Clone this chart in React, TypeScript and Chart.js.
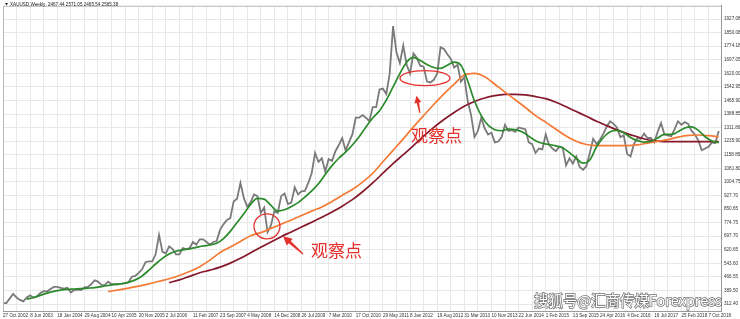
import React, { useEffect, useRef } from "react";
import { Chart, registerables } from "chart.js";

Chart.register(...registerables);

// ---------- data ----------
const titleText = "XAUUSD,Weekly  2467.44 2571.05 2465.54 2565.38";
const noteText = "观察点";
const watermarkText = "搜狐号@汇商传媒Forexpress";

// x tick labels, one every 32 weeks starting 27 Oct 2002
const dateLabels = [
  "27 Oct 2002", "8 Jun 2003", "18 Jan 2004", "29 Aug 2004", "10 Apr 2005", "20 Nov 2005",
  "2 Jul 2006", "11 Feb 2007", "23 Sep 2007", "4 May 2008", "14 Dec 2008", "26 Jul 2009",
  "7 Mar 2010", "17 Oct 2010", "29 May 2011", "8 Jan 2012", "19 Aug 2012", "31 Mar 2013",
  "10 Nov 2013", "22 Jun 2014", "1 Feb 2015", "13 Sep 2015", "24 Apr 2016", "4 Dec 2016",
  "16 Jul 2017", "25 Feb 2018", "7 Oct 2018",
];

// y tick labels, bottom to top
const priceLabels = [
  "312.40", "389.50", "466.55", "543.60", "620.65", "697.70", "774.75", "850.65",
  "927.70", "1004.75", "1081.80", "1158.85", "1235.90", "1311.80", "1388.85", "1465.90",
  "1542.95", "1620.00", "1697.05", "1774.18", "1850.08", "1927.08",
];
const priceTickFirst = 312.4;
const priceTickStep = 77.0324;

// weekly close, sampled every 4 weeks from week 0 (27 Oct 2002)
const closeStep = 4;
const weeklyClose = [
  318, 318, 345,
  370, 350, 336, 328, 350, 362, 348, 356, 375, 386, 384, 398, 410,
  410, 405, 400, 405, 378, 392, 395, 392, 408, 410, 425, 447, 440,
  422, 420, 440, 425, 425, 425, 428, 432, 437, 468, 472, 490, 510,
  550, 555, 555, 595, 705, 610, 600, 640, 625, 595, 595, 630, 625,
  630, 665, 650, 680, 680, 665, 650, 665, 670, 735, 765, 790, 800,
  895, 910, 1000, 915, 865, 890, 935, 925, 830, 860, 720, 760, 840,
  830, 925, 940, 880, 888, 975, 935, 952, 955, 1000, 1055, 1170, 1120,
  1140, 1065, 1135, 1125, 1180, 1215, 1255, 1185, 1230, 1275, 1370, 1370, 1385,
  1370, 1350, 1430, 1430, 1530, 1535, 1505, 1620, 1890, 1740, 1680, 1780, 1670,
  1620, 1735, 1710, 1665, 1660, 1575, 1570, 1585, 1620, 1770, 1760, 1730, 1705,
  1655, 1670, 1575, 1600, 1465, 1385, 1260, 1295, 1370, 1310, 1275, 1285, 1230,
  1235, 1260, 1330, 1295, 1300, 1290, 1315, 1310, 1305, 1230, 1220, 1170, 1195,
  1190, 1275, 1215, 1195, 1180, 1205, 1200, 1100, 1140, 1110, 1150, 1090, 1075,
  1095, 1170, 1250, 1220, 1245, 1280, 1320, 1350, 1335, 1315, 1260, 1270, 1165,
  1150, 1220, 1255, 1250, 1280, 1255, 1255, 1230, 1290, 1340, 1275, 1270, 1265,
  1305, 1350, 1330, 1345, 1335, 1295, 1275, 1240, 1185, 1195, 1205, 1230, 1225, 1295,
];

// green moving average, every 8 weeks from week 28
const greenStart = 28;
const greenStep = 8;
const greenMA = [
  340, 350, 362, 375, 385, 392, 396, 398, 400, 403, 406, 412, 418, 424, 428, 436,
  450, 472, 505, 540, 572, 597, 612, 620, 626, 634, 642, 648, 658, 684, 725, 775,
  825, 878, 912, 908, 872, 840, 848, 866, 888, 920, 955, 995, 1048, 1098, 1140, 1175,
  1215, 1262, 1318, 1368, 1410, 1470, 1545, 1620, 1685, 1712, 1695, 1672, 1655, 1650,
  1668, 1685, 1668, 1578, 1465, 1382, 1328, 1302, 1296, 1305, 1302, 1290, 1265, 1240,
  1225, 1218, 1210, 1200, 1172, 1140, 1112, 1130, 1205, 1258, 1290, 1298, 1285, 1258,
  1240, 1232, 1236, 1255, 1275, 1275, 1290, 1312, 1318, 1298, 1262, 1238, 1229,
];

// orange moving average, every 12 weeks from week 124
const orangeStart = 124;
const orangeStep = 12;
const orangeMA = [
  383, 393, 403, 414, 427, 442, 456, 475, 497, 525, 562, 605, 637, 668, 700, 718,
  742, 766, 790, 815, 840, 864, 895, 930, 963, 1005, 1055, 1120, 1185, 1250, 1318, 1382,
  1445, 1505, 1560, 1612, 1622, 1603, 1560, 1515, 1472, 1428, 1382, 1345, 1305, 1266,
  1236, 1218, 1212, 1212, 1212, 1212, 1216, 1226, 1236, 1246, 1260, 1270, 1272, 1268, 1262,
];

// dark red moving average, every 12 weeks from week 196
const redStart = 196;
const redStep = 12;
const redMA = [
  434, 450, 470, 490, 505, 522, 545, 572, 604, 635, 665, 695, 722, 750, 777, 805,
  835, 868, 905, 950, 1000, 1055, 1110, 1160, 1212, 1265, 1315, 1360, 1400, 1435, 1462, 1482,
  1495, 1502, 1503, 1500, 1490, 1478, 1458, 1432, 1405, 1378, 1350, 1325, 1301, 1280,
  1262, 1245, 1237, 1234, 1234, 1234, 1234, 1234, 1234,
];

// ---------- helpers ----------
const toPoints = (vals: number[], start: number, step: number) =>
  vals.map((v, i) => ({ x: start + i * step, y: v }));

const W = 740;
const H = 319;
const X_MAX = 846.7;
const Y_MIN = 273.3;
const Y_MAX = 2005.3;
const RED = "#e5312b";

function drawArrow(
  ctx: CanvasRenderingContext2D,
  tx: number, ty: number, hx: number, hy: number,
  headLen: number, headW: number, s0: number, s1: number
) {
  const dx = hx - tx, dy = hy - ty;
  const len = Math.hypot(dx, dy);
  const ux = dx / len, uy = dy / len;
  const nx = -uy, ny = ux;
  const bx = hx - ux * headLen, by = hy - uy * headLen;
  ctx.beginPath();
  ctx.moveTo(tx + nx * s0 / 2, ty + ny * s0 / 2);
  ctx.lineTo(bx + nx * s1 / 2, by + ny * s1 / 2);
  ctx.lineTo(bx + nx * headW / 2, by + ny * headW / 2);
  ctx.lineTo(hx, hy);
  ctx.lineTo(bx - nx * headW / 2, by - ny * headW / 2);
  ctx.lineTo(bx - nx * s1 / 2, by - ny * s1 / 2);
  ctx.lineTo(tx - nx * s0 / 2, ty - ny * s0 / 2);
  ctx.closePath();
  ctx.fill();
}

const overlayPlugin = {
  id: "overlay",
  afterDraw(chart: any) {
    const ctx: CanvasRenderingContext2D = chart.ctx;
    const xs = chart.scales.x;
    const ys = chart.scales.y;
    const px = (w: number) => xs.getPixelForValue(w);
    const py = (p: number) => ys.getPixelForValue(p);
    const area = chart.chartArea;
    ctx.save();

    // frame left/top
    ctx.strokeStyle = "#b8b8b8";
    ctx.lineWidth = 1;
    ctx.beginPath();
    ctx.moveTo(area.left + 0.5, area.bottom);
    ctx.lineTo(area.left + 0.5, area.top + 0.5);
    ctx.lineTo(area.right, area.top + 0.5);
    ctx.stroke();

    // title
    ctx.fillStyle = "#222";
    ctx.beginPath();
    ctx.moveTo(5, 3);
    ctx.lineTo(8, 3);
    ctx.lineTo(6.5, 5.5);
    ctx.closePath();
    ctx.fill();
    ctx.font = "4.6px 'Liberation Sans', Arial, sans-serif";
    ctx.textBaseline = "middle";
    ctx.textAlign = "left";
    ctx.fillText(titleText, 10, 4.5);

    // annotations
    ctx.strokeStyle = RED;
    ctx.fillStyle = RED;
    ctx.lineWidth = 1.3;
    ctx.beginPath();
    ctx.ellipse(px(497.6), py(1594.6), 25, 7.5, 0, 0, Math.PI * 2);
    ctx.stroke();
    ctx.beginPath();
    ctx.ellipse(px(311.3), py(753.8), 13, 12.5, 0, 0, Math.PI * 2);
    ctx.stroke();

    drawArrow(ctx, px(491.7), py(1396), px(487.6), py(1494), 7, 7, 1, 2.5);
    drawArrow(ctx, px(353.8), py(597), px(330.2), py(698), 9, 9, 1.2, 3);

    ctx.font = "17px 'Noto Sans CJK SC', sans-serif";
    ctx.textAlign = "center";
    ctx.textBaseline = "middle";
    ctx.fillText(noteText, px(511.2), py(1268));
    ctx.fillText(noteText, px(393.3), py(617));

    // watermark
    let fs = 17;
    ctx.font = `${fs}px 'Noto Sans CJK SC', sans-serif`;
    const mw = ctx.measureText(watermarkText).width;
    fs = fs * 188 / mw;
    ctx.font = `${fs}px 'Noto Sans CJK SC', sans-serif`;
    ctx.textAlign = "left";
    ctx.textBaseline = "alphabetic";
    ctx.lineWidth = 1.4;
    ctx.strokeStyle = "rgba(85,85,85,0.85)";
    ctx.strokeText(watermarkText, 534, 306);
    ctx.fillStyle = "#ffffff";
    ctx.fillText(watermarkText, 534, 306);

    ctx.restore();
  },
};

export default function App() {
  const ref = useRef<HTMLCanvasElement | null>(null);

  useEffect(() => {
    if (!ref.current) return;
    const chart = new Chart(ref.current, {
      type: "line",
      data: {
        datasets: [
          {
            label: "XAUUSD",
            data: toPoints(weeklyClose, 0, closeStep),
            borderColor: "#7a7a7a",
            borderWidth: 1.8,
            pointRadius: 0,
            tension: 0,
            order: 4,
          },
          {
            label: "MA slow",
            data: toPoints(redMA, redStart, redStep),
            borderColor: "#85192b",
            borderWidth: 1.7,
            pointRadius: 0,
            cubicInterpolationMode: "monotone",
            order: 3,
          },
          {
            label: "MA mid",
            data: toPoints(orangeMA, orangeStart, orangeStep),
            borderColor: "#f47a35",
            borderWidth: 1.7,
            pointRadius: 0,
            cubicInterpolationMode: "monotone",
            order: 2,
          },
          {
            label: "MA fast",
            data: toPoints(greenMA, greenStart, greenStep),
            borderColor: "#2b8a2b",
            borderWidth: 1.7,
            pointRadius: 0,
            cubicInterpolationMode: "monotone",
            order: 1,
          },
        ],
      },
      options: {
        responsive: false,
        animation: false,
        devicePixelRatio: 1,
        layout: { padding: { left: 3, top: 1, right: 0, bottom: 0 } },
        plugins: {
          legend: { display: false },
          tooltip: { enabled: false },
        },
        scales: {
          x: {
            type: "linear",
            min: 0,
            max: X_MAX,
            afterBuildTicks: (scale: any) => {
              const t = [];
              for (let w = 0; w <= X_MAX; w += 16) t.push({ value: w });
              scale.ticks = t;
            },
            afterFit: (scale: any) => {
              scale.height = 8;
            },
            grid: { color: "#e8e8e8", drawTicks: false, lineWidth: 1 },
            border: { color: "#9a9a9a" },
            ticks: {
              autoSkip: false,
              maxRotation: 0,
              minRotation: 0,
              align: "start",
              padding: 1.5,
              color: "#333",
              font: { size: 4.6, family: "'Liberation Sans', Arial, sans-serif" },
              callback: (value: any) => {
                const k = Math.round(Number(value) / 16);
                if (k % 2 !== 0) return "";
                return dateLabels[k / 2] ?? "";
              },
            },
          },
          y: {
            type: "linear",
            position: "right",
            min: Y_MIN,
            max: Y_MAX,
            afterBuildTicks: (scale: any) => {
              scale.ticks = priceLabels.map((_, i) => ({ value: priceTickFirst + i * priceTickStep }));
            },
            afterFit: (scale: any) => {
              scale.width = 19;
            },
            grid: { color: "#e8e8e8", drawTicks: false, lineWidth: 1 },
            border: { color: "#9a9a9a" },
            ticks: {
              autoSkip: false,
              padding: 3,
              color: "#333",
              font: { size: 4.6, family: "'Liberation Sans', Arial, sans-serif" },
              callback: (_v: any, i: number) => priceLabels[i] ?? "",
            },
          },
        },
      },
      plugins: [overlayPlugin],
    });
    return () => chart.destroy();
  }, []);

  return (
    <div style={{ position: "fixed", left: 0, top: 0, width: W, height: H, background: "#fff" }}>
      <canvas ref={ref} width={W} height={H} style={{ display: "block", width: W, height: H }} />
    </div>
  );
}
